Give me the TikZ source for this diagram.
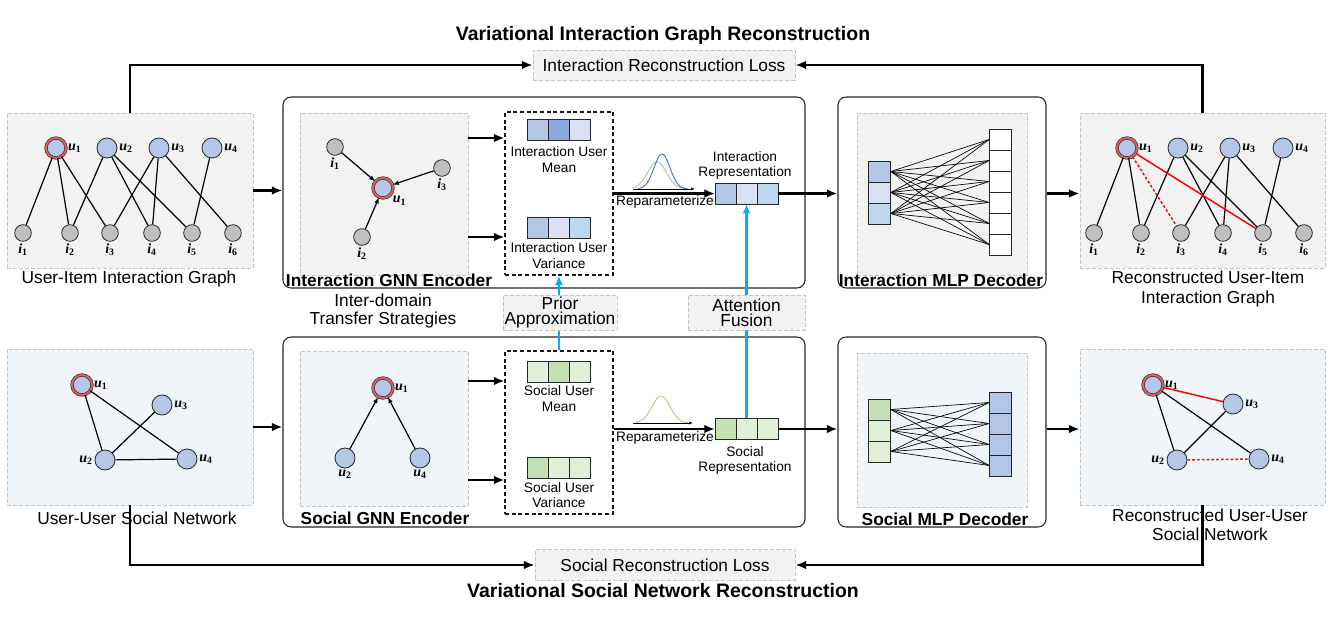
\documentclass[tikz,border=0pt]{standalone}
\usepackage{fontspec}
\setmainfont{Liberation Sans}
\newfontfamily\serifnode{Liberation Serif}
\usetikzlibrary{arrows.meta}
\definecolor{ublue}{HTML}{B4C7E7}
\definecolor{igray}{HTML}{BFBFBF}
\definecolor{boxgray}{HTML}{F2F2F2}
\definecolor{boxblue}{HTML}{F0F5F9}
\definecolor{dashgray}{HTML}{C4C4C4}
\definecolor{cA}{HTML}{B4C6E7}
\definecolor{cB}{HTML}{8EA9DB}
\definecolor{cC}{HTML}{DAE0F2}
\definecolor{cD}{HTML}{BDD7EE}
\definecolor{gA}{HTML}{C5E0B3}
\definecolor{gB}{HTML}{E2EFD9}
\definecolor{cyanc}{HTML}{00B0F0}
\definecolor{ringred}{HTML}{E06060}
\definecolor{gaussblue}{HTML}{4472C4}
\definecolor{gaussgreen}{HTML}{A9D18E}
\newcommand\nodelab[2]{{\serifnode\fontsize{10.5}{10.5}\selectfont\bfseries\itshape #1\textsubscript{\upshape #2}}}
\newcommand\lblfont{\fontsize{13}{14.5}\selectfont}
\newcommand\smallfont{\fontsize{10.3}{11.4}\selectfont}
\newcommand\titlefont{\fontsize{14.6}{16}\selectfont\bfseries}
\newcommand\hdfont{\fontsize{13}{14}\selectfont\bfseries}
\begin{document}
\begin{tikzpicture}[x=0.75pt,y=-0.75pt,
  panel/.style={draw=dashgray, dash pattern=on 3pt off 1.5pt, line width=0.6pt, fill=boxgray, inner sep=0pt},
  bpanel/.style={panel, fill=boxblue},
  bigbox/.style={draw=black!85, line width=0.8pt, rounded corners=6pt, fill=white, inner sep=0pt},
  dbox/.style={draw=black!90, dash pattern=on 3pt off 2pt, line width=0.8pt, inner sep=0pt},
  softbox/.style={draw=dashgray, dash pattern=on 3pt off 1.5pt, line width=0.6pt, fill=boxgray, inner sep=0pt, font=\lblfont, align=center},
  flow/.style={line width=1.8pt, -{Latex[length=8pt,width=6.5pt]}},
  cflow/.style={cyanc, line width=2pt, -{Latex[length=7pt,width=6pt]}},
  edge/.style={line width=0.9pt},
  redge/.style={red, line width=1.1pt},
  rdedge/.style={red, line width=1.1pt, dash pattern=on 2pt off 1.6pt},
  gedge/.style={line width=0.9pt, -{Latex[length=4.5pt,width=3.5pt]}},
  unode/.style={circle, draw=black!85, line width=0.6pt, fill=ublue, minimum size=15pt, inner sep=0pt},
  inode/.style={circle, draw=black!85, line width=0.6pt, fill=igray, minimum size=12.5pt, inner sep=0pt},
  tnode/.style={unode, line width=0.45pt, double=ringred, double distance=1.5pt},
  lab/.style={inner sep=1.2pt},
  cell/.style={rectangle, draw=black!85, line width=0.7pt, minimum width=15.75pt, minimum height=15.75pt, inner sep=0pt, outer sep=0pt},
  mcell/.style={cell, minimum width=17pt},
  mlp/.style={line width=0.5pt},
  txt/.style={font=\lblfont, align=center, inner sep=0pt},
  stxt/.style={font=\smallfont, align=center, inner sep=0pt},
  hd/.style={font=\hdfont, inner sep=0pt},
]
\useasboundingbox (0,0) rectangle (1339,623);

% titles and loss boxes
\node[font=\titlefont] (t1) at (663,35) {Variational Interaction Graph Reconstruction};
\node[font=\titlefont] (t2) at (663,591) {Variational Social Network Reconstruction};
\node[softbox, minimum width=196.5pt, minimum height=22.5pt] (iloss) at (664,65) {Interaction Reconstruction Loss};
\node[softbox, minimum width=195pt, minimum height=23pt] (sloss) at (665,565) {Social Reconstruction Loss};

% outer panels
\node[panel, minimum width=184.5pt, minimum height=116.25pt] (ui) at (130,190.5) {};
\node[txt] (uilab) at (129,279) {User-Item Interaction Graph};
\node[panel, minimum width=183.75pt, minimum height=116.25pt] (rui) at (1202.5,190.5) {};
\node[txt] (ruilab) at (1208,289) {Reconstructed User-Item\\Interaction Graph};
\node[bpanel, minimum width=184.5pt, minimum height=117pt] (us) at (130,427) {};
\node[txt] (uslab) at (137,518) {User-User Social Network};
\node[bpanel, minimum width=183.75pt, minimum height=117pt] (rus) at (1202.5,427) {};
\node[txt] (ruslab) at (1210,524.5) {Reconstructed User-User\\Social Network};

% big boxes
\node[bigbox, minimum width=391.5pt, minimum height=143.25pt] (ienc) at (544,192.5) {};
\node[bigbox, minimum width=391.5pt, minimum height=142.5pt] (senc) at (544,432) {};
\node[bigbox, minimum width=156pt, minimum height=143.25pt] (idec) at (942,192.5) {};
\node[bigbox, minimum width=156pt, minimum height=142.5pt] (sdec) at (942,432) {};

\node[panel, minimum width=126pt, minimum height=121.5pt] (ignn) at (384,194) {};
\node[bpanel, minimum width=126pt, minimum height=116.25pt] (sgnn) at (384,428.5) {};
\node[dbox, minimum width=81pt, minimum height=122.25pt] (idash) at (559,193.5) {};
\node[dbox, minimum width=81pt, minimum height=122.25pt] (sdash) at (559,432.5) {};
\node[panel, minimum width=127.5pt, minimum height=121.5pt] (imlp) at (942,194) {};
\node[bpanel, minimum width=127.5pt, minimum height=115.5pt] (smlp) at (942,430) {};

\node[hd] (h1) at (389,280) {Interaction GNN Encoder};
\node[hd] (h2) at (941,280) {Interaction MLP Decoder};
\node[hd] (h3) at (385,518) {Social GNN Encoder};
\node[hd] (h4) at (945,519) {Social MLP Decoder};

% user-item graph
\node[tnode, label={[lab]0:\nodelab{u}{1}}] (a1) at (56,148) {};
\node[unode, label={[lab]0:\nodelab{u}{2}}] (a2) at (107,148) {};
\node[unode, label={[lab]0:\nodelab{u}{3}}] (a3) at (159,148) {};
\node[unode, label={[lab]0:\nodelab{u}{4}}] (a4) at (212,148) {};
\foreach \n/\x in {1/23,2/70,3/110,4/152,5/192,6/233}
  \node[inode, label={[lab]-90:\nodelab{i}{\n}}] (b\n) at (\x,233) {};
\foreach \u/\i in {1/1,1/2,1/3,2/2,2/4,2/5,3/3,3/4,3/6,4/5}
  \draw[edge] (a\u) -- (b\i);

% reconstructed user-item graph
\node[tnode, label={[lab]0:\nodelab{u}{1}}] (c1) at (1127,148) {};
\node[unode, label={[lab]0:\nodelab{u}{2}}] (c2) at (1178,148) {};
\node[unode, label={[lab]0:\nodelab{u}{3}}] (c3) at (1230,148) {};
\node[unode, label={[lab]0:\nodelab{u}{4}}] (c4) at (1283,148) {};
\foreach \n/\x in {1/1094,2/1141,3/1181,4/1223,5/1263,6/1304}
  \node[inode, label={[lab]-90:\nodelab{i}{\n}}] (d\n) at (\x,233) {};
\foreach \u/\i in {1/1,1/2,2/2,2/4,2/5,3/3,3/4,3/6,4/5}
  \draw[edge] (c\u) -- (d\i);
\draw[redge] (c1) -- (d5);
\draw[rdedge] (c1) -- (d3);

% interaction GNN
\node[inode, label={[lab]-90:\nodelab{i}{1}}] (g1) at (335,147) {};
\node[inode, label={[lab]-90:\nodelab{i}{3}}] (g3) at (442,168) {};
\node[inode, label={[lab]-90:\nodelab{i}{2}}] (g2) at (362,237) {};
\node[tnode, label={[lab]-40:\nodelab{u}{1}}] (gu) at (383,188) {};
\draw[gedge] (g1) -- (gu);
\draw[gedge] (g3) -- (gu);
\draw[gedge] (g2) -- (gu);

% social network
\node[tnode, label={[lab]0:\nodelab{u}{1}}] (s1) at (82,385) {};
\node[unode, label={[lab]0:\nodelab{u}{3}}] (s3) at (162,405) {};
\node[unode, label={[lab]180:\nodelab{u}{2}}] (s2) at (105,460) {};
\node[unode, label={[lab]0:\nodelab{u}{4}}] (s4) at (187,459) {};
\draw[edge] (s1) -- (s2);
\draw[edge] (s1) -- (s4);
\draw[edge] (s2) -- (s3);
\draw[edge] (s2) -- (s4);

% reconstructed social network
\node[tnode, label={[lab]0:\nodelab{u}{1}}] (r1) at (1153,385) {};
\node[unode, label={[lab]0:\nodelab{u}{3}}] (r3) at (1233,404) {};
\node[unode, label={[lab]180:\nodelab{u}{2}}] (r2) at (1177,460) {};
\node[unode, label={[lab]0:\nodelab{u}{4}}] (r4) at (1259,459) {};
\draw[edge] (r1) -- (r2);
\draw[edge] (r1) -- (r4);
\draw[edge] (r2) -- (r3);
\draw[redge] (r1) -- (r3);
\draw[rdedge] (r2) -- (r4);

% social GNN
\node[tnode, label={[lab]0:\nodelab{u}{1}}] (k1) at (383,388) {};
\node[unode, label={[lab]-90:\nodelab{u}{2}}] (k2) at (345,458) {};
\node[unode, label={[lab]-90:\nodelab{u}{4}}] (k4) at (420,458) {};
\draw[gedge] (k2) -- (k1);
\draw[gedge] (k4) -- (k1);

% cells
\foreach \i/\c in {0/cA,1/cB,2/cC} \node[cell, fill=\c] (im\i) at ({538+21*\i},130) {};
\foreach \i/\c in {0/cA,1/cC,2/cD} \node[cell, fill=\c] (iv\i) at ({538+21*\i},227.5) {};
\foreach \i/\c in {0/cA,1/cC,2/cD} \node[cell, fill=\c] (ir\i) at ({725.5+21*\i},193.5) {};
\foreach \i/\c in {0/gB,1/gA,2/gB} \node[cell, fill=\c] (sm\i) at ({538+21*\i},371.5) {};
\foreach \i/\c in {0/gA,1/gB,2/gB} \node[cell, fill=\c] (sv\i) at ({538+21*\i},468) {};
\foreach \i/\c in {0/gA,1/gB,2/gB} \node[cell, fill=\c] (sr\i) at ({725.5+21*\i},429) {};

\node[stxt] (tm) at (559,159.5) {Interaction User\\Mean};
\node[stxt] (tv) at (559,255.5) {Interaction User\\Variance};
\node[stxt] (tr) at (745,165.5) {Interaction\\Representation};
\node[stxt] (tp) at (665,202) {Reparameterize};
\node[stxt] (tsm) at (559,398.5) {Social User\\Mean};
\node[stxt] (tsv) at (559,495) {Social User\\Variance};
\node[stxt] (tsr) at (745,460.5) {Social\\Representation};
\node[stxt] (tsp) at (665,438) {Reparameterize};

% gaussians
\draw[gaussgreen, line width=0.7pt, domain=632:684, samples=60] plot (\x,{189-27*exp(-(\x-657)*(\x-657)/180)});
\draw[gaussblue, line width=0.7pt, domain=638:688, samples=60] plot (\x,{189-35*exp(-(\x-662)*(\x-662)/128)});
\draw[line width=0.6pt, -{Latex[length=3pt,width=2.5pt]}] (633,189) -- (695,189);
\draw[gaussgreen, line width=0.7pt, domain=635:688, samples=60] plot (\x,{423-27*exp(-(\x-661)*(\x-661)/162)});
\draw[line width=0.6pt, -{Latex[length=3pt,width=2.5pt]}] (633,423) -- (693,423);

% MLP decoders
\foreach \i/\c in {0/cA,1/cC,2/cD} \node[mcell, fill=\c] (ml\i) at (879.5,{171.5+21*\i}) {};
\foreach \i in {0,...,5} \node[mcell, fill=white] (mr\i) at (1000.5,{139.5+21*\i}) {};
\foreach \a in {0,1,2} \foreach \b in {0,...,5} \draw[mlp] (ml\a.east) -- (mr\b.west);
\foreach \i/\c in {0/gA,1/gB,2/gB} \node[mcell, fill=\c] (nl\i) at (879.5,{409.5+21*\i}) {};
\foreach \i in {0,...,3} \node[mcell, fill=cA] (nr\i) at (1000.5,{402.5+21*\i}) {};
\foreach \a in {0,1,2} \foreach \b in {0,...,3} \draw[mlp] (nl\a.east) -- (nr\b.west);

% flow arrows
\draw[flow] (ui.east) -- (ui.east -| ienc.west);
\draw[flow] (us.east) -- (us.east -| senc.west);
\draw[flow] (ignn.east |- 0,138) -- (idash.west |- 0,138);
\draw[flow] (ignn.east |- 0,237) -- (idash.west |- 0,237);
\draw[flow] (sgnn.east |- 0,381) -- (sdash.west |- 0,381);
\draw[flow] (sgnn.east |- 0,480) -- (sdash.west |- 0,480);
\draw[flow] (idash.east |- ir0.west) -- (ir0.west);
\draw[flow] (sdash.east |- sr0.west) -- (sr0.west);
\draw[flow] (ir2.east) -- (ir2.east -| idec.west);
\draw[flow] (sr2.east) -- (sr2.east -| sdec.west);
\draw[flow] (idec.east |- ir2.east) -- (ir2.east -| rui.west);
\draw[flow] (sdec.east |- sr2.east) -- (sr2.east -| rus.west);

% loss connectors
\draw[flow] (ui.north) |- (iloss.west);
\draw[flow] (rui.north) |- (iloss.east);
\draw[flow] (us.south) |- (sloss.west);
\draw[flow] (rus.south) |- (sloss.east);

% transfer strategies
\draw[cflow] (sdash.north) -- (idash.south);
\draw[cflow] (sr1.north) -- (ir1.south);
\node[softbox, font=\fontsize{13}{11.5}\selectfont, minimum width=85.5pt, minimum height=26.25pt] (prior) at (560,312.5) {Prior\\Approximation};
\node[softbox, font=\fontsize{13}{11.5}\selectfont, minimum width=87.75pt, minimum height=26.25pt] (attn) at (746.5,312.5) {Attention\\Fusion};
\node[txt, font=\fontsize{13}{13.5}\selectfont] (tsx) at (383,311) {Inter-domain\\Transfer Strategies};
\end{tikzpicture}
\end{document}
